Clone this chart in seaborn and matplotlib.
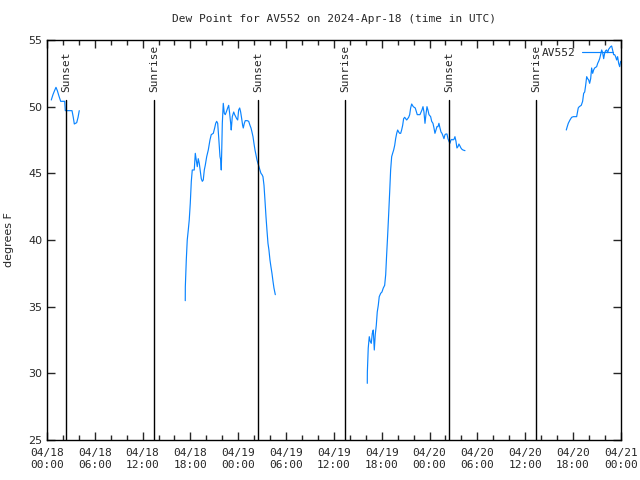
import numpy as np
import pandas as pd
import seaborn as sns
import matplotlib.dates as mdates
from matplotlib import pyplot as plt

START = pd.Timestamp('2024-04-18 00:00')

# dew point readings, hours after 04/18 00:00 UTC
seg1_hours = [0.54, 0.75, 0.95, 1.13, 1.3, 1.5, 1.72, 2.0, 2.22, 2.3, 2.7, 3.14, 3.3, 3.43, 3.73, 3.9, 4.05]
seg1_dew = [50.5, 50.9, 51.2, 51.45, 51.2, 50.8, 50.4, 50.4, 50.4, 49.7, 49.7, 49.7, 49.2, 48.7, 48.8, 49.2, 49.7]

seg2_hours = [17.35, 17.36, 17.48, 17.60, 17.73, 17.85, 17.98, 18.11, 18.23, 18.48, 18.61, 18.73,
              18.86, 18.98, 19.11, 19.36, 19.49, 19.61, 19.74, 19.86, 20.04, 20.24, 20.45, 20.61,
              20.87, 21.04, 21.17, 21.29, 21.42, 21.54, 21.71, 21.80, 21.87, 21.92, 22.0, 22.12,
              22.25, 22.37, 22.5, 22.67, 22.80, 22.92, 23.05, 23.12, 23.25, 23.43, 23.55, 23.68,
              23.80, 23.93, 24.05, 24.18, 24.30, 24.43, 24.55, 24.63, 24.76, 24.88, 25.13, 25.31,
              25.47, 25.6, 25.72, 25.85, 25.97, 26.1, 26.22, 26.35, 26.47, 26.6, 26.72, 26.85,
              26.98, 27.1, 27.23, 27.35, 27.48, 27.6, 27.73, 27.85, 27.98, 28.1, 28.23, 28.36,
              28.48, 28.65]
seg2_dew = [35.45, 36.5, 38.5, 40.0, 40.75, 41.5, 42.75, 44.4, 45.25, 45.25, 46.5, 46.0,
            45.5, 46.1, 45.75, 44.6, 44.4, 44.5, 45.25, 45.6, 46.25, 46.75, 47.5, 47.9,
            48.0, 48.4, 48.75, 48.9, 48.75, 47.75, 46.25, 46.0, 45.25, 46.5, 48.75, 50.25,
            49.5, 49.4, 49.6, 49.9, 50.1, 49.5, 48.75, 48.25, 49.25, 49.6, 49.4, 49.25,
            49.1, 49.0, 49.75, 49.9, 49.6, 49.1, 48.6, 48.4, 48.75, 48.95, 48.95, 48.9,
            48.6, 48.4, 48.1, 47.75, 47.25, 46.75, 46.4, 46.0, 45.75, 45.5, 45.25, 45.0,
            44.9, 44.75, 44.1, 43.0, 41.75, 40.75, 39.75, 39.25, 38.5, 38.0, 37.5, 36.9,
            36.4, 35.9]

seg3_hours = [40.19, 40.2, 40.31, 40.44, 40.56, 40.69, 40.82, 40.94, 41.07, 41.19, 41.32, 41.44,
              41.57, 41.69, 41.87, 42.03, 42.20, 42.37, 42.50, 42.62, 42.75, 42.87, 43.0, 43.12,
              43.25, 43.37, 43.50, 43.63, 43.75, 43.88, 44.0, 44.13, 44.25, 44.38, 44.50, 44.63,
              44.75, 44.88, 45.01, 45.13, 45.26, 45.38, 45.51, 45.63, 45.76, 45.96, 46.21, 46.46,
              46.80, 47.05, 47.18, 47.30, 47.43, 47.55, 47.68, 47.80, 47.93, 48.14, 48.27, 48.43,
              48.56, 48.68, 48.81, 48.93, 49.06, 49.18, 49.31, 49.44, 49.56, 49.69, 49.81, 49.94,
              50.06, 50.19, 50.31, 50.44, 50.56, 50.69, 50.82, 50.94, 51.07, 51.19, 51.32, 51.44,
              51.57, 51.69, 51.82, 51.94, 52.07, 52.20, 52.45]
seg3_dew = [29.25, 30.1, 31.9, 32.75, 32.4, 32.25, 33.0, 33.25, 31.75, 32.9, 33.6, 34.6,
            35.1, 35.75, 36.0, 36.1, 36.4, 36.6, 37.4, 38.9, 40.4, 41.9, 43.6, 45.25,
            46.25, 46.5, 46.75, 47.1, 47.6, 48.0, 48.25, 48.1, 48.0, 48.0, 48.25, 48.6,
            49.1, 49.2, 49.1, 49.0, 49.1, 49.2, 49.4, 49.9, 50.2, 50.0, 49.9, 49.4,
            49.4, 49.75, 50.0, 49.6, 48.75, 49.4, 50.0, 49.75, 49.4, 49.25, 48.9, 48.75,
            48.4, 48.0, 48.25, 48.5, 48.5, 48.75, 48.4, 48.1, 48.0, 47.8, 47.6, 47.9,
            47.95, 47.95, 47.6, 47.4, 47.25, 47.5, 47.55, 47.5, 47.55, 47.75, 47.4, 46.9,
            47.0, 47.2, 47.05, 46.9, 46.8, 46.75, 46.7]

seg4_hours = [65.16, 65.28, 65.41, 65.62, 65.83, 66.04, 66.46, 66.66, 66.79, 67.04, 67.21, 67.34,
              67.47, 67.59, 67.72, 67.84, 67.97, 68.09, 68.22, 68.34, 68.47, 68.59, 68.72, 68.97,
              69.10, 69.22, 69.35, 69.47, 69.60, 69.72, 69.85, 69.97, 70.10, 70.22, 70.35, 70.47,
              70.60, 70.72, 70.85, 70.97, 71.10, 71.23, 71.35, 71.48, 71.60, 71.73, 71.86, 71.98]
seg4_dew = [48.25, 48.5, 48.75, 49.0, 49.2, 49.25, 49.25, 49.9, 50.0, 50.1, 50.4, 51.0,
            51.1, 51.6, 52.25, 52.1, 52.0, 51.75, 52.1, 52.9, 52.5, 52.75, 52.9, 53.0,
            53.25, 53.4, 53.6, 53.9, 54.25, 54.05, 53.6, 54.0, 54.2, 54.25, 54.05, 54.3,
            54.4, 54.5, 54.55, 54.25, 53.9, 53.9, 53.75, 53.5, 53.75, 53.25, 53.0, 53.4]

sunset_hours = [2.38, 26.45, 50.5]
sunrise_hours = [13.42, 37.4, 61.4]

LINE_COLOR = '#0a84ff'
MONO = 'DejaVu Sans Mono'

sns.set_style('ticks')
fig, ax = plt.subplots(figsize=(6.4, 4.8), dpi=100)
fig.subplots_adjust(left=0.0734, right=0.970, top=0.9167, bottom=0.0833)

segments = [(seg1_hours, seg1_dew), (seg2_hours, seg2_dew),
            (seg3_hours, seg3_dew), (seg4_hours, seg4_dew)]
for i, (hrs, dew) in enumerate(segments):
    df = pd.DataFrame({'time': START + pd.to_timedelta(hrs, unit='h'), 'dew': dew})
    sns.lineplot(data=df, x='time', y='dew', ax=ax, color=LINE_COLOR, lw=0.85,
                 estimator=None, label='AV552' if i == 0 else None, legend=False)

# sunrise / sunset markers
for name, hrs in [('Sunset', sunset_hours), ('Sunrise', sunrise_hours)]:
    for h in hrs:
        t = START + pd.Timedelta(hours=h)
        ax.plot([t, t], [25, 50.5], color='black', lw=1.0)
        ax.text(t, 51.1, name, rotation=90, ha='center', va='bottom',
                fontsize=8, family=MONO)

ax.set_xlim(START, START + pd.Timedelta(hours=72))
ax.set_ylim(25, 55)
ax.set_yticks(np.arange(25, 56, 5))
ax.xaxis.set_major_locator(mdates.HourLocator(byhour=range(0, 24, 6)))
ax.xaxis.set_minor_locator(mdates.HourLocator(byhour=range(0, 24, 2)))
ax.xaxis.set_major_formatter(mdates.DateFormatter('%m/%d\n%H:%M'))
ax.tick_params(axis='both', which='both', direction='in', top=True, right=True, width=1)
ax.tick_params(axis='x', which='major', length=6, labelsize=8, pad=6)
ax.tick_params(axis='x', which='minor', length=3.5)
ax.tick_params(axis='y', which='major', length=6, labelsize=8)
for lab in ax.get_xticklabels():
    lab.set_family(MONO)
for s in ax.spines.values():
    s.set_linewidth(1)
    s.set_color('black')

ax.set_xlabel('')
ax.set_ylabel('degrees F', fontsize=8, labelpad=10)
ax.set_title('Dew Point for AV552 on 2024-Apr-18 (time in UTC)', fontsize=8,
             family=MONO, pad=13)

ax.legend(loc='upper right', frameon=False, markerfirst=False, handlelength=2.8,
          prop={'family': MONO, 'size': 8}, borderaxespad=0.3, handletextpad=0.6)

fig.savefig('out.png', dpi=100)
